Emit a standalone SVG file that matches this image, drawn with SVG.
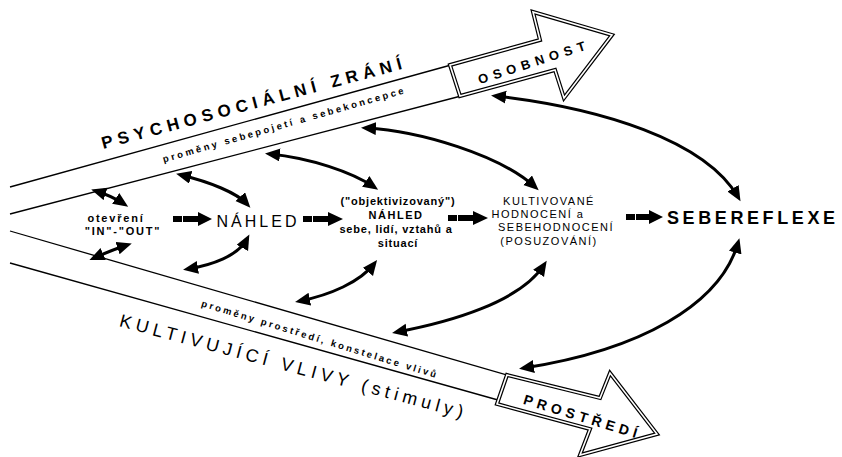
<svg xmlns="http://www.w3.org/2000/svg" width="842" height="457" viewBox="0 0 842 457">
<defs>
<style>
.ln{fill:none;stroke:#000;stroke-width:1.3}
.big{fill:#fff;stroke:#000;stroke-width:4;stroke-linejoin:miter}
.bigin{fill:none;stroke:#fff;stroke-width:1.6;stroke-linejoin:miter}
.ca{fill:none;stroke:#000;stroke-width:3;marker-start:url(#ah);marker-end:url(#ah)}
.t{font-family:"Liberation Sans",Arial,sans-serif;fill:#000}
.b{font-weight:bold}
</style>
<marker id="ah" markerUnits="userSpaceOnUse" markerWidth="16" markerHeight="14" refX="10" refY="6.5" orient="auto-start-reverse" viewBox="0 0 16 14">
<path d="M0,0 L15,6.5 L0,13 z" fill="#000"/>
</marker>
</defs>

<g id="top-band">
<line class="ln" x1="10" y1="187" x2="451" y2="65"/>
<line class="ln" x1="10" y1="214" x2="461" y2="96"/>
<text class="t b" font-size="17" text-anchor="middle" textLength="310" lengthAdjust="spacing" transform="translate(253,109) rotate(-15)">PSYCHOSOCIÁLNÍ ZRÁNÍ</text>
<text class="t b" font-size="9.5" text-anchor="middle" textLength="250" lengthAdjust="spacing" transform="translate(284,128) rotate(-16)">proměny sebepojetí a sebekoncepce</text>
</g>

<g id="osobnost">
<polygon class="big" points="450,65 540,40 533,12 612,35 564,98 555,70 460,96"/>
<polygon class="bigin" points="450,65 540,40 533,12 612,35 564,98 555,70 460,96"/>
<text class="t b" font-size="13" text-anchor="middle" textLength="112" lengthAdjust="spacing" transform="translate(533,67) rotate(-18)">OSOBNOST</text>
</g>

<g id="bottom-band">
<line class="ln" x1="10" y1="231" x2="510" y2="376"/>
<line class="ln" x1="10" y1="263" x2="498" y2="400"/>
<text class="t b" font-size="9.5" text-anchor="middle" textLength="245" lengthAdjust="spacing" transform="translate(318,342) rotate(17)">proměny prostředí, konstelace vlivů</text>
<text class="t" font-size="18" text-anchor="middle" textLength="355" lengthAdjust="spacing" transform="translate(290,372) rotate(15)">KULTIVUJÍCÍ VLIVY (stimuly)</text>
</g>

<g id="prostredi">
<polygon class="big" points="507,375 600,398 610,373 657,434 580,455 590,429 497,404"/>
<polygon class="bigin" points="507,375 600,398 610,373 657,434 580,455 590,429 497,404"/>
<text class="t b" font-size="14" text-anchor="middle" textLength="118" lengthAdjust="spacing" transform="translate(579,421) rotate(17)">PROSTŘEDÍ</text>
</g>

<g id="otevreni">
<text class="t b" font-size="11" text-anchor="middle" letter-spacing="1.8" x="116" y="222">otevření</text>
<text class="t b" font-size="11" text-anchor="middle" letter-spacing="1.8" x="123" y="235">"IN"-"OUT"</text>
</g>

<g id="nahled">
<text class="t" font-size="16" text-anchor="middle" letter-spacing="3" x="258" y="227">NÁHLED</text>
</g>

<g id="objektivizovany">
<text class="t b" font-size="11" text-anchor="middle" letter-spacing="0.8" x="398" y="205">("objektivizovaný")</text>
<text class="t b" font-size="11" text-anchor="middle" letter-spacing="1.5" x="396" y="219">NÁHLED</text>
<text class="t b" font-size="11" text-anchor="middle" letter-spacing="0.8" x="396" y="233">sebe, lidí, vztahů a</text>
<text class="t b" font-size="11" text-anchor="middle" letter-spacing="0.8" x="398" y="247">situací</text>
</g>

<g id="kultivovane">
<text class="t" font-size="11" text-anchor="middle" letter-spacing="1.5" x="549" y="205">KULTIVOVANÉ</text>
<text class="t" font-size="11" text-anchor="middle" letter-spacing="1.5" x="538" y="218">HODNOCENÍ a</text>
<text class="t" font-size="11" text-anchor="middle" letter-spacing="1.5" x="556" y="231">SEBEHODNOCENÍ</text>
<text class="t" font-size="11" text-anchor="middle" letter-spacing="1.5" x="549" y="245">(POSUZOVÁNÍ)</text>
</g>

<g id="sebereflexe">
<text class="t b" font-size="18" text-anchor="middle" textLength="168" lengthAdjust="spacing" x="751" y="224">SEBEREFLEXE</text>
</g>

<g id="connectors">
<g id="flow-arrows" fill="#000">
<rect x="173" y="216" width="9" height="6"/><rect x="183" y="216" width="16" height="6"/><polygon points="198,212 212,219 198,226"/>
<rect x="303" y="216" width="9" height="6"/><rect x="313" y="216" width="16" height="6"/><polygon points="328,212 343,219 328,226"/>
<rect x="448" y="215" width="9" height="6"/><rect x="458" y="215" width="16" height="6"/><polygon points="473,211 488,218 473,225"/>
<rect x="626" y="214" width="9" height="6"/><rect x="636" y="214" width="14" height="6"/><polygon points="649,210 663,217 649,224"/>
</g>
<path class="ca" d="M96,191 Q112,196 124,204"/>
<path class="ca" d="M94,258 Q112,250 127,245"/>
<path class="ca" d="M181,175 C210,182 237,193 247,204"/>
<path class="ca" d="M247,239 C238,256 212,265 188,269"/>
<path class="ca" d="M270,154 C310,158 352,172 374,187"/>
<path class="ca" d="M374,264 C360,282 330,295 300,301"/>
<path class="ca" d="M366,128 C420,131 500,155 535,187"/>
<path class="ca" d="M544,265 C520,302 450,322 397,332"/>
<path class="ca" d="M496,96 C600,108 705,140 738,197"/>
<path class="ca" d="M738,243 C720,305 640,350 524,368"/>
</g>
</svg>
